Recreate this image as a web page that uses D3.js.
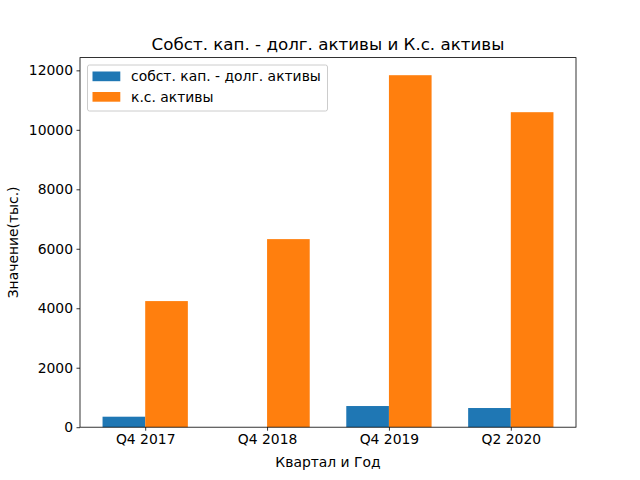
<!DOCTYPE html>
<html>
<head>
<meta charset="utf-8">
<script src="https://cdn.jsdelivr.net/npm/d3@7"></script>
<style>
  body { margin: 0; background: #fff; }
  svg text { font-family: "DejaVu Sans", sans-serif; }
</style>
</head>
<body>
<svg id="chart" width="640" height="480"></svg>
<script>
// 데이터
var categories = ["Q4 2017", "Q4 2018", "Q4 2019", "Q2 2020"];
var seriesNames = ["собст. кап. - долг. активы", "к.с. активы"];
var equityMinusFixed = [353, 0, 712, 645];
var currentAssets = [4241, 6325, 11837, 10593];
var yTicks = [0, 2000, 4000, 6000, 8000, 10000, 12000];
var colors = ["#1f77b4", "#ff7f0e"];

var svg = d3.select("#chart");
// 축 영역 (window.top 과 이름이 겹치지 않게)
var axL = 80, axR = 576, axT = 57.6, axB = 427.2;
var barW = 0.35;

// 축과 척도
var x = d3.scaleLinear().domain([-0.535, 3.535]).range([axL, axR]);
var ymax = d3.max(currentAssets) * 1.05;
var y = d3.scaleLinear().domain([0, ymax]).range([axB, axT]);

svg.append("rect").attr("width", 640).attr("height", 480).attr("fill", "#fff");

// 막대
var series = [equityMinusFixed, currentAssets];
series.forEach(function(vals, s){
  var off = s == 0 ? -barW / 2 : barW / 2;
  svg.append("g").selectAll("rect")
    .data(vals)
    .enter()
    .append("rect")
    .attr("x", function(d, i){ return x(i + off - barW / 2); })
    .attr("width", function(){ return x(barW) - x(0); })
    .attr("y", function(d){ return y(Math.max(d, 0)); })
    .attr("height", function(d){ return Math.abs(y(d) - y(0)); })
    .attr("fill", colors[s]);
});

// 축
var xAxis = d3.axisBottom(x)
  .tickValues(d3.range(categories.length))
  .tickFormat(function(d){ return categories[d]; })
  .tickSize(3.5).tickPadding(3.5).tickSizeOuter(0);
var gx = svg.append("g").attr("transform", "translate(0," + axB + ")").call(xAxis);

var yAxis = d3.axisLeft(y).tickValues(yTicks).tickFormat(d3.format("d"))
  .tickSize(3.5).tickPadding(3.5).tickSizeOuter(0);
var gy = svg.append("g").attr("transform", "translate(" + axL + ",0)").call(yAxis);

[gx, gy].forEach(function(g){
  g.select(".domain").remove();
  g.selectAll(".tick line").attr("stroke", "#000").attr("stroke-width", 0.8);
  g.selectAll(".tick text").attr("fill", "#000").attr("font-size", "13.9px")
    .attr("font-family", "DejaVu Sans");
});

// 테두리
svg.append("rect")
  .attr("x", axL).attr("y", axT)
  .attr("width", axR - axL).attr("height", axB - axT)
  .attr("fill", "none").attr("stroke", "#000").attr("stroke-width", 0.8);

// 제목, 축 이름
svg.append("text").attr("x", (axL + axR) / 2).attr("y", 50)
  .attr("text-anchor", "middle").attr("font-size", "16.7px")
  .text("Собст. кап. - долг. активы и К.с. активы");
svg.append("text").attr("x", (axL + axR) / 2).attr("y", 467)
  .attr("text-anchor", "middle").attr("font-size", "13.9px")
  .text("Квартал и Год");
svg.append("text")
  .attr("transform", "translate(18," + (axT + axB) / 2 + ") rotate(-90)")
  .attr("text-anchor", "middle").attr("font-size", "13.9px")
  .text("Значение(тыс.)");

// 범례
var lg = svg.append("g");
lg.append("rect").attr("x", 87.5).attr("y", 65).attr("width", 240).attr("height", 46)
  .attr("rx", 2).attr("fill", "#fff").attr("fill-opacity", 0.8)
  .attr("stroke", "#ccc").attr("stroke-width", 1);
seriesNames.forEach(function(n, i){
  lg.append("rect").attr("x", 92.5).attr("y", 71.5 + i * 20.5)
    .attr("width", 27.8).attr("height", 9.7).attr("fill", colors[i]);
  lg.append("text").attr("x", 131).attr("y", 81 + i * 20.5)
    .attr("font-size", "13.9px").text(n);
});
</script>
</body>
</html>
